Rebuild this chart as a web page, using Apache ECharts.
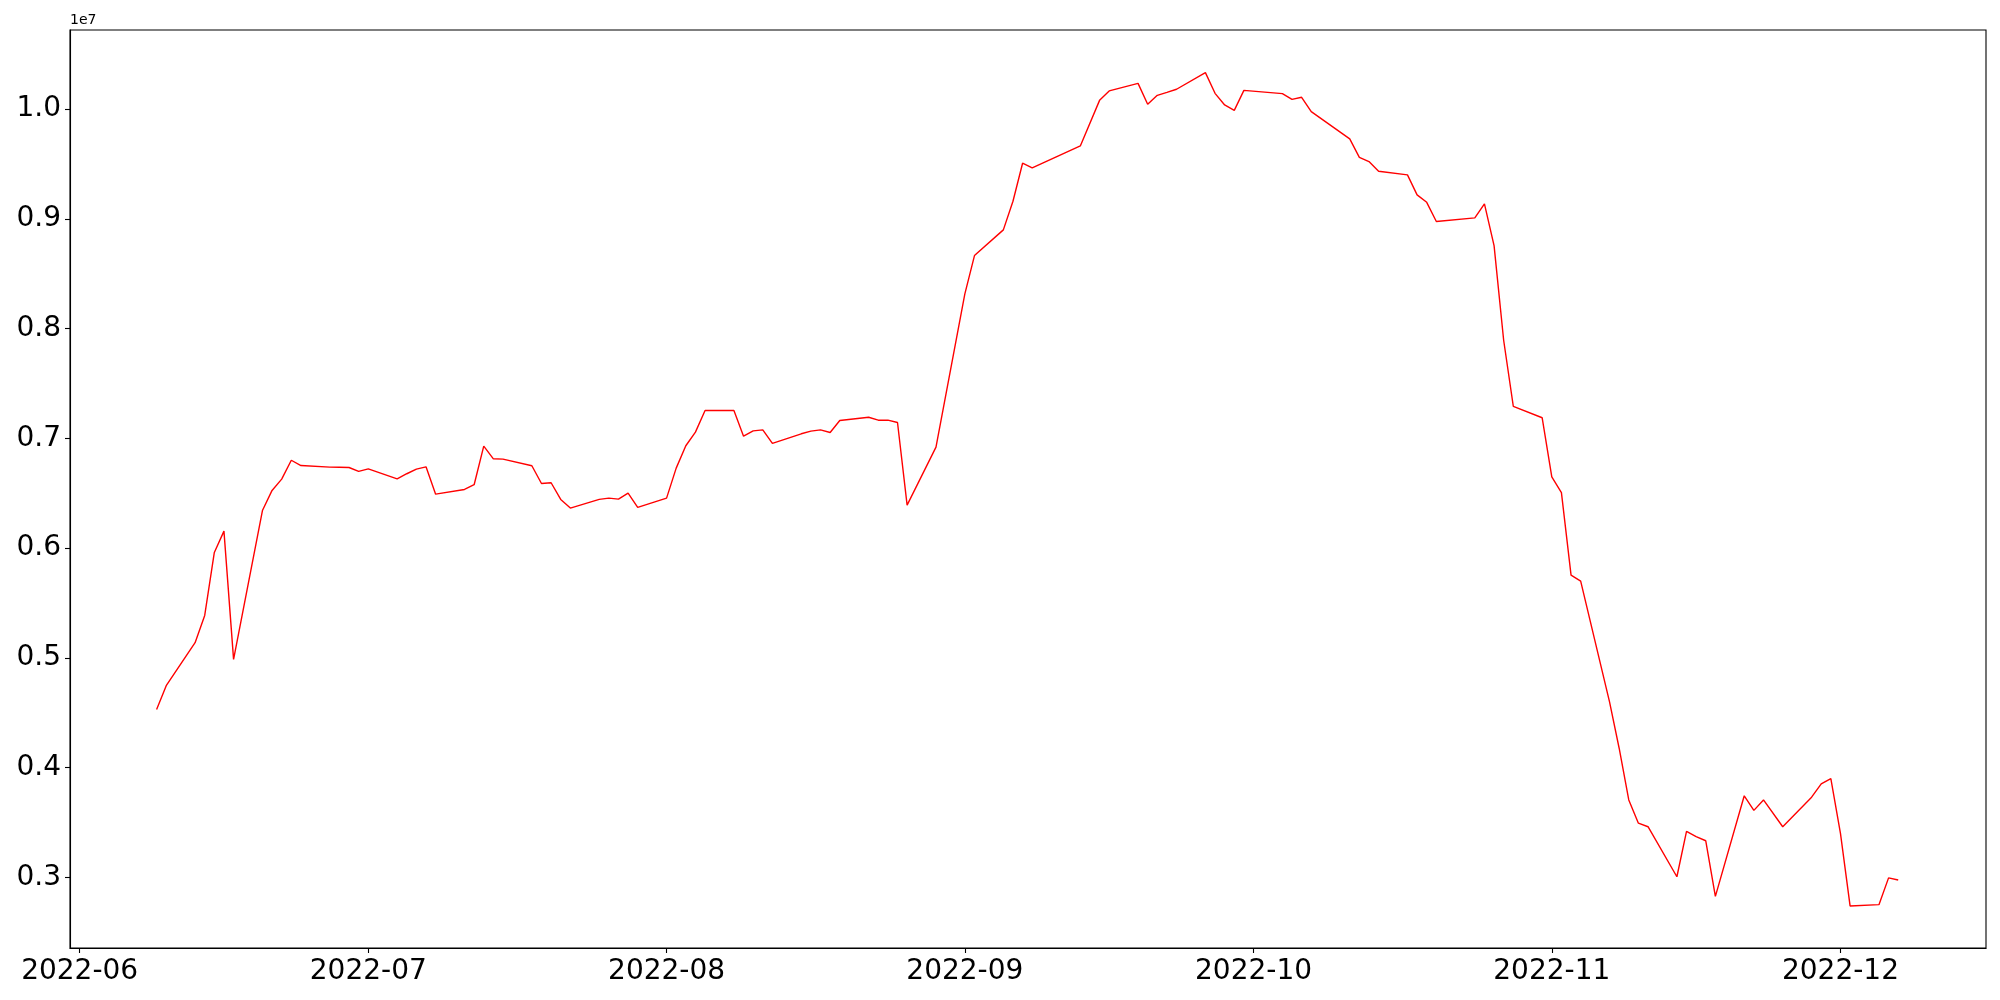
<!DOCTYPE html>
<html><head><meta charset="utf-8">
<script src="https://cdn.jsdelivr.net/npm/echarts@6/dist/echarts.min.js"></script>
<style>html,body{margin:0;padding:0;background:#fff}#c{width:2000px;height:1000px}</style>
</head><body><div id="c"></div>
<script>
const dates = [
'2022-06-09','2022-06-10','2022-06-13','2022-06-14','2022-06-15','2022-06-16','2022-06-17',
'2022-06-20','2022-06-21','2022-06-22','2022-06-23','2022-06-24','2022-06-27','2022-06-28',
'2022-06-29','2022-06-30','2022-07-01','2022-07-04','2022-07-05','2022-07-06','2022-07-07',
'2022-07-08','2022-07-11','2022-07-12','2022-07-13','2022-07-14','2022-07-15','2022-07-18',
'2022-07-19','2022-07-20','2022-07-21','2022-07-22','2022-07-25','2022-07-26','2022-07-27',
'2022-07-28','2022-07-29','2022-08-01','2022-08-02','2022-08-03','2022-08-04','2022-08-05',
'2022-08-08','2022-08-09','2022-08-10','2022-08-11','2022-08-12','2022-08-15','2022-08-16',
'2022-08-17','2022-08-18','2022-08-19','2022-08-22','2022-08-23','2022-08-24','2022-08-25',
'2022-08-26','2022-08-29','2022-09-01','2022-09-02','2022-09-05','2022-09-06','2022-09-07',
'2022-09-08','2022-09-13','2022-09-15','2022-09-16','2022-09-19','2022-09-20','2022-09-21',
'2022-09-22','2022-09-23','2022-09-26','2022-09-27','2022-09-28','2022-09-29','2022-09-30',
'2022-10-04','2022-10-05','2022-10-06','2022-10-07','2022-10-11','2022-10-12','2022-10-13',
'2022-10-14','2022-10-17','2022-10-18','2022-10-19','2022-10-20','2022-10-24','2022-10-25',
'2022-10-26','2022-10-27','2022-10-28','2022-10-31','2022-11-01','2022-11-02','2022-11-03',
'2022-11-04','2022-11-07','2022-11-08','2022-11-09','2022-11-10','2022-11-11','2022-11-14',
'2022-11-15','2022-11-16','2022-11-17','2022-11-18','2022-11-21','2022-11-22','2022-11-23',
'2022-11-25','2022-11-28','2022-11-29','2022-11-30','2022-12-01','2022-12-02','2022-12-05',
'2022-12-06','2022-12-07'
];
const values = [
4530000,4746000,5138000,5386000,5960000,6154000,4986000,
6342000,6525000,6628000,6800000,6752000,6737000,6736000,
6734000,6698000,6722000,6631000,6677000,6719000,6740000,
6491000,6534000,6577000,6928000,6813000,6810000,6750000,
6588000,6595000,6443000,6364000,6443000,6455000,6446000,
6500000,6370000,6455000,6728000,6932000,7056000,7253000,
7253000,7019000,7068000,7077000,6953000,7041000,7065000,
7077000,7053000,7162000,7192000,7165000,7165000,7144000,
6391000,6919000,8316000,8665000,8899000,9160000,9506000,
9463000,9664000,10079000,10165000,10234000,10043000,10125000,
10152000,10180000,10332000,10143000,10037000,9988000,10170000,
10140000,10088000,10107000,9976000,9728000,9560000,9521000,
9433000,9400000,9218000,9150000,8975000,9008000,9136000,
8756000,7891000,7290000,7187000,6648000,6505000,5754000,
5699000,4599000,4176000,3705000,3493000,3461000,3005000,
3418000,3370000,3333000,2826000,3743000,3610000,3705000,
3461000,3730000,3851000,3900000,3400000,2739000,2751000,
2995000,2976000
];
const yTicks = [3000000,4000000,5000000,6000000,7000000,8000000,9000000,10000000];
const yScaleLabel = '1e7';
const xMin = '2022-05-31T00:00:00';
const xMax = '2022-12-16T03:00:00';
const yMin = 2356000;
const yMax = 10720000;

const chart = echarts.init(document.getElementById('c'), null, {renderer: 'canvas'});
const font = 'DejaVu Sans';
chart.setOption({
  animation: false,
  backgroundColor: '#fff',
  textStyle: {fontFamily: font},
  grid: {left: 70, right: 14, top: 30, bottom: 52, show: true, borderColor: '#000', borderWidth: 1.1, containLabel: false},
  xAxis: {
    type: 'time', min: xMin, max: xMax, splitNumber: 7,
    minInterval: 28 * 86400000,
    axisLine: {lineStyle: {color: '#000', width: 1.1}},
    axisTick: {show: true, inside: false, length: 5, lineStyle: {color: '#000', width: 1.1}},
    splitLine: {show: false},
    axisLabel: {
      fontFamily: font, fontSize: 28, color: '#000', margin: 10,
      showMinLabel: false, showMaxLabel: false, hideOverlap: false,
      formatter: function (v) {
        const d = new Date(v);
        if (d.getDate() !== 1 || d.getHours() !== 0) return '';
        return d.getFullYear() + '-' + String(d.getMonth() + 1).padStart(2, '0');
      }
    }
  },
  yAxis: {
    type: 'value', min: yMin, max: yMax, splitNumber: 8,
    name: yScaleLabel, nameLocation: 'end', nameGap: 3,
    nameTextStyle: {fontFamily: font, fontSize: 14, color: '#000', align: 'left', verticalAlign: 'bottom'},
    axisLine: {show: true, lineStyle: {color: '#000', width: 1.1}},
    axisTick: {show: true, inside: false, length: 5, lineStyle: {color: '#000', width: 1.1}},
    splitLine: {show: false},
    axisLabel: {
      fontFamily: font, fontSize: 28, color: '#000', margin: 9,
      showMinLabel: false, showMaxLabel: false,
      formatter: function (v) {
        if (yTicks.indexOf(Math.round(v)) < 0) return '';
        return (v / 1e7).toFixed(1);
      }
    }
  },
  series: [{
    type: 'line',
    data: dates.map((d, i) => [d, values[i]]),
    showSymbol: false,
    lineStyle: {color: '#ff0000', width: 1.4},
    itemStyle: {color: '#ff0000'}
  }]
});
</script>
</body></html>
